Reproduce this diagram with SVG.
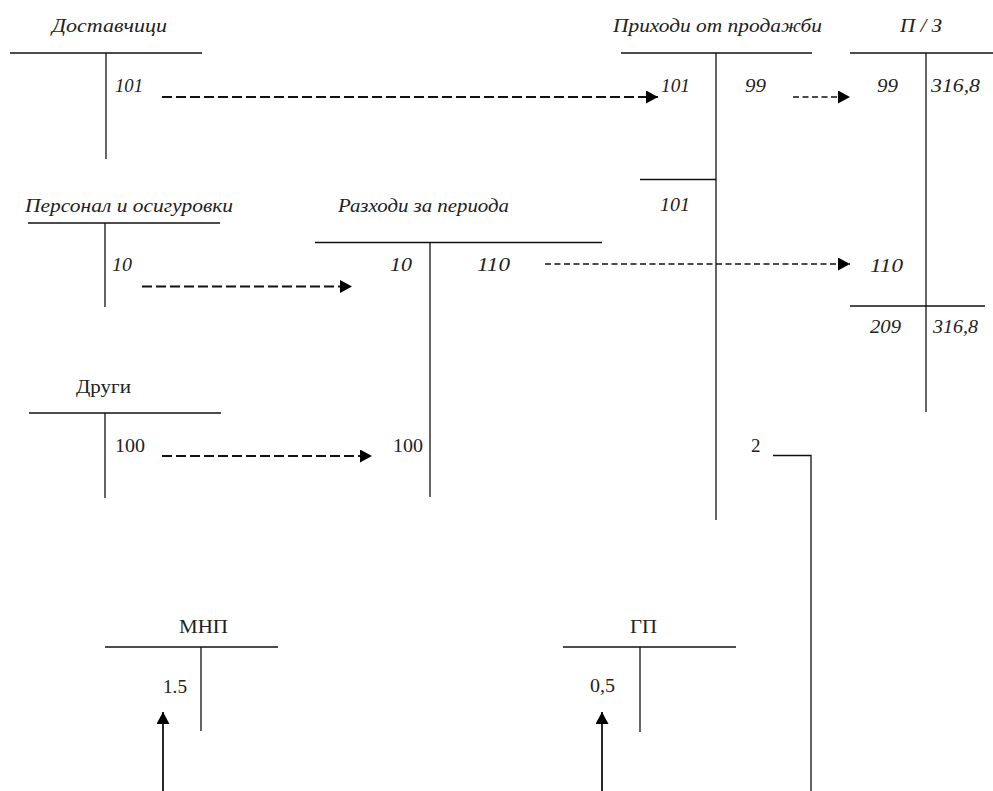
<svg xmlns="http://www.w3.org/2000/svg" width="993" height="791" viewBox="0 0 993 791">
<style>
.ln{stroke:#111;stroke-width:1.3;fill:none}
.it{font-family:"Liberation Serif","Times New Roman",serif;font-style:italic;font-size:19px;fill:#222}
.rg{font-family:"Liberation Serif","Times New Roman",serif;font-size:19px;fill:#222}
.da{stroke:#111;stroke-width:1.8;fill:none;stroke-dasharray:10 4}
.db{stroke:#111;stroke-width:1.6;fill:none;stroke-dasharray:6 3.5}
.ar{stroke:#111;stroke-width:1.8;fill:none}
</style>
<defs>
<marker id="ah" markerUnits="userSpaceOnUse" markerWidth="13" markerHeight="14" refX="12" refY="6.5" orient="auto">
<path d="M0,0 L12,6.5 L0,13 z" fill="#000"/>
</marker>
</defs>
<rect width="993" height="791" fill="#fff"/>

<g id="dostavchici">
<text class="it" x="52" y="32" textLength="115" lengthAdjust="spacingAndGlyphs">Доставчици</text>
<line class="ln" x1="10" y1="53" x2="202" y2="53"/>
<line class="ln" x1="106" y1="53" x2="106" y2="159"/>
<text class="it" x="115" y="92" textLength="28" lengthAdjust="spacingAndGlyphs">101</text>
</g>

<g id="prihodi">
<text class="it" x="613" y="32" textLength="209" lengthAdjust="spacingAndGlyphs">Приходи от продажби</text>
<line class="ln" x1="621" y1="53" x2="812" y2="53"/>
<line class="ln" x1="716" y1="53" x2="716" y2="520"/>
<line class="ln" x1="640" y1="179.5" x2="716" y2="179.5"/>
<text class="it" x="661" y="92" textLength="29" lengthAdjust="spacingAndGlyphs">101</text>
<text class="it" x="745" y="92" textLength="21" lengthAdjust="spacingAndGlyphs">99</text>
<text class="it" x="660" y="211" textLength="30" lengthAdjust="spacingAndGlyphs">101</text>
<text class="rg" x="751" y="452">2</text>
</g>

<g id="pz">
<text class="it" x="900" y="32" textLength="42" lengthAdjust="spacingAndGlyphs">П / З</text>
<line class="ln" x1="850" y1="53" x2="993" y2="53"/>
<line class="ln" x1="926" y1="53" x2="926" y2="412"/>
<line class="ln" x1="850" y1="306" x2="985" y2="306"/>
<text class="it" x="877" y="92" textLength="21" lengthAdjust="spacingAndGlyphs">99</text>
<text class="it" x="931" y="92" textLength="49" lengthAdjust="spacingAndGlyphs">316,8</text>
<text class="it" x="870" y="272" textLength="33" lengthAdjust="spacingAndGlyphs">110</text>
<text class="it" x="870" y="333" textLength="31" lengthAdjust="spacingAndGlyphs">209</text>
<text class="it" x="933" y="333" textLength="45" lengthAdjust="spacingAndGlyphs">316,8</text>
</g>

<g id="personal">
<text class="it" x="25" y="212" textLength="208" lengthAdjust="spacingAndGlyphs">Персонал и осигуровки</text>
<line class="ln" x1="28" y1="223" x2="220" y2="223"/>
<line class="ln" x1="105" y1="223" x2="105" y2="307"/>
<text class="it" x="112" y="271" textLength="20" lengthAdjust="spacingAndGlyphs">10</text>
</g>

<g id="razhodi">
<text class="it" x="338" y="212" textLength="171" lengthAdjust="spacingAndGlyphs">Разходи за периода</text>
<line class="ln" x1="315" y1="242.5" x2="602" y2="242.5"/>
<line class="ln" x1="430" y1="242.5" x2="430" y2="497"/>
<text class="it" x="390" y="271" textLength="22" lengthAdjust="spacingAndGlyphs">10</text>
<text class="it" x="477" y="271" textLength="33" lengthAdjust="spacingAndGlyphs">110</text>
<text class="rg" x="393" y="452" textLength="30" lengthAdjust="spacingAndGlyphs">100</text>
</g>

<g id="drugi">
<text class="rg" x="76" y="393" textLength="55" lengthAdjust="spacingAndGlyphs">Други</text>
<line class="ln" x1="29" y1="413" x2="221" y2="413"/>
<line class="ln" x1="105" y1="413" x2="105" y2="498"/>
<text class="rg" x="115" y="452" textLength="30" lengthAdjust="spacingAndGlyphs">100</text>
</g>

<g id="mnp">
<text class="rg" x="179" y="633" textLength="49" lengthAdjust="spacingAndGlyphs">МНП</text>
<line class="ln" x1="105" y1="647" x2="278" y2="647"/>
<line class="ln" x1="201" y1="647" x2="201" y2="731"/>
<text class="rg" x="163" y="693" textLength="24" lengthAdjust="spacingAndGlyphs">1.5</text>
</g>

<g id="gp">
<text class="rg" x="630" y="633" textLength="27" lengthAdjust="spacingAndGlyphs">ГП</text>
<line class="ln" x1="563" y1="647" x2="736" y2="647"/>
<line class="ln" x1="640" y1="647" x2="640" y2="732"/>
<text class="rg" x="590" y="692" textLength="25" lengthAdjust="spacingAndGlyphs">0,5</text>
</g>

<g id="connectors">
<line class="da" x1="162" y1="97" x2="658" y2="97" marker-end="url(#ah)"/>
<line class="db" x1="793" y1="97" x2="850" y2="97" marker-end="url(#ah)"/>
<line class="da" x1="142" y1="286.5" x2="352" y2="286.5" marker-end="url(#ah)"/>
<line class="db" x1="545" y1="264" x2="850" y2="264" marker-end="url(#ah)"/>
<line class="da" x1="162" y1="456" x2="372" y2="456" marker-end="url(#ah)"/>
<line class="ar" x1="163" y1="791" x2="163" y2="712" marker-end="url(#ah)"/>
<line class="ar" x1="602" y1="791" x2="602" y2="712" marker-end="url(#ah)"/>
<polyline class="ln" points="773,455.5 811,455.5 811,791"/>
</g>
</svg>
